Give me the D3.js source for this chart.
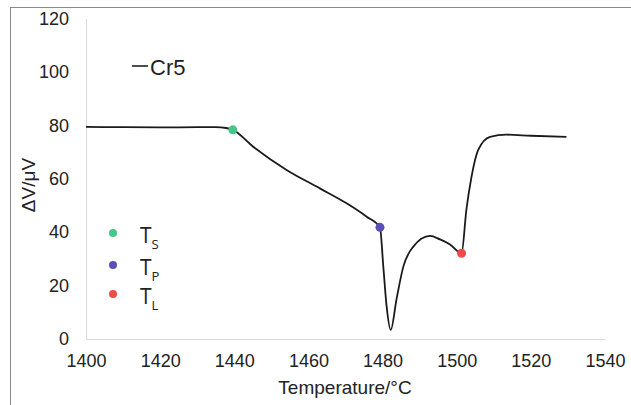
<!DOCTYPE html>
<html lang="en">
<head>
<meta charset="utf-8" />
<script src="https://cdn.jsdelivr.net/npm/d3@7"></script>
<style>
body { margin: 0; background: #fff; }
text { font-family: "Liberation Sans", Arial, sans-serif; fill: #222; }
</style>
</head>
<body>
<script>
// curve
var temps = [1400, 1410, 1420, 1430, 1435, 1437.8, 1439.6, 1445.1, 1454.1, 1463.1, 1470.3, 1475.7, 1479.3, 1480.2, 1481.1, 1482.2, 1483.8, 1485.6, 1488.3, 1492.8, 1495.5, 1498.2, 1501.3, 1502.6, 1504.0, 1505.8, 1509.0, 1513.4, 1520, 1529.6];
var volts = [79.4, 79.3, 79.2, 79.3, 79.3, 79.0, 78.3, 72.0, 63.3, 56.4, 50.8, 45.8, 41.8, 27.1, 12.1, 3.4, 15.2, 27.1, 34.6, 38.6, 37.3, 35.4, 32.1, 48.3, 60.8, 70.8, 75.7, 76.5, 76.1, 75.7];
var markNames = ["S", "P", "L"];
var markTemps = [1439.6, 1479.3, 1501.3];
var markVolts = [78.3, 41.8, 32.1];
var markColors = ["#47c68a", "#5a4fb5", "#f04a4a"];
var xTicks = [1400, 1420, 1440, 1460, 1480, 1500, 1520, 1540];
var yTicks = [0, 20, 40, 60, 80, 100, 120];

var w = 631, h = 405;
var svg = d3.select("body").append("svg").attr("width", w).attr("height", h);

// frame
svg.append("rect").attr("x", 10.5).attr("y", 7.5).attr("width", 640).attr("height", 420)
	.attr("fill", "none").attr("stroke", "#888").attr("stroke-width", 1);

var xScale = d3.scaleLinear().domain([1400, 1540]).range([86, 605]);
var yScale = d3.scaleLinear().domain([0, 120]).range([339, 18.5]);

// axes
var xAxis = d3.axisBottom(xScale).tickValues(xTicks).tickSize(0).tickPadding(15).tickFormat(d3.format("d"));
var yAxis = d3.axisLeft(yScale).tickValues(yTicks).tickSize(0).tickPadding(17);

var gx = svg.append("g").attr("transform", "translate(0," + yScale(0) + ")").call(xAxis);
var gy = svg.append("g").attr("transform", "translate(" + xScale(1400) + ",0)").call(yAxis);
[gx, gy].forEach(function(g) {
	g.select(".domain").attr("stroke", "#d9d9d9").attr("stroke-width", 1);
	g.selectAll("text").style("font-size", "18px").attr("fill", "#333");
});

// line
var line = d3.line()
	.x(function(d, i) { return xScale(temps[i]); })
	.y(function(d) { return yScale(d); })
	.curve(d3.curveMonotoneX);
svg.append("path").datum(volts).attr("d", line)
	.attr("fill", "none").attr("stroke", "#1a1a1a").attr("stroke-width", 1.8);

// marker points
svg.selectAll(".mark").data(markTemps).enter().append("circle")
	.attr("cx", function(d) { return xScale(d); })
	.attr("cy", function(d, i) { return yScale(markVolts[i]); })
	.attr("r", 4.5)
	.attr("fill", function(d, i) { return markColors[i]; });

// series legend
svg.append("line").attr("x1", 132).attr("x2", 148).attr("y1", 66).attr("y2", 66)
	.attr("stroke", "#222").attr("stroke-width", 1.6);
svg.append("text").attr("x", 150).attr("y", 75).style("font-size", "22px").text("Cr5");

// marker legend
var ly = [233, 265, 294];
markNames.forEach(function(n, i) {
	svg.append("circle").attr("cx", 113).attr("cy", ly[i]).attr("r", 4)
		.attr("fill", markColors[i]);
	var t = svg.append("text").attr("x", 140).attr("y", ly[i] + 10).style("font-size", "21px")
		.style("font-family", "'Open Sans', sans-serif");
	t.append("tspan").text("T");
	t.append("tspan").attr("dy", 6).style("font-size", "13px").text(n);
});

// axis titles
svg.append("text").attr("x", 345).attr("y", 394).attr("text-anchor", "middle")
	.style("font-size", "19px").text("Temperature/°C");
svg.append("text").attr("transform", "translate(35,185) rotate(-90)").attr("text-anchor", "middle")
	.style("font-size", "19px").text("ΔV/μV");
</script>
</body>
</html>
